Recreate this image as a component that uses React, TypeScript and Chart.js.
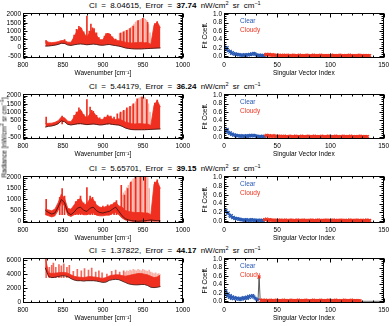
import React, { useEffect, useRef } from "react";
import { Chart, registerables } from "chart.js";

Chart.register(...registerables);

const FONT = "'Liberation Sans', Arial, Helvetica, sans-serif";
const INK = "#000";
const FIT_RED = "#ef3020";
const WEAK_PINK = "#f8b2a8";
const CLEAR_BLUE = "#2a5ab4";
const CLOUDY_RED = "#ee3522";

// ---------- spectra: wavenumber grid (cm^-1) ----------
const wavenumber = [828, 832, 836, 840, 844, 848, 852, 856, 860, 864, 868, 872, 876, 880, 884, 888, 892, 896, 900, 904, 908, 912, 916, 920, 924, 928, 932, 936, 940, 944, 948, 952, 956, 960, 964, 968, 972];

const wnTicks = [800, 850, 900, 950, 1000];
const radianceTicksA = [-500, 0, 500, 1000, 1500, 2000];
const radianceTicksB = [0, 500, 1000, 1500, 2000];
const radianceTicksC = [0, 2000, 4000, 6000];
const indexTicks = [0, 50, 100, 150];
const coeffTicks = [0, 0.2, 0.4, 0.6, 0.8, 1.0];

const ciValues = ["8.04615", "5.44179", "5.65701", "1.37822"];
const errorValues = ["37.74", "36.24", "39.15", "44.17"];

// scene 1
const obs1 = [90, 100, 120, 150, 190, 260, 250, 160, 130, 170, 200, 220, 200, 170, 190, 210, 190, 150, 140, 170, 190, 150, 120, 90, 40, -20, -50, -70, -80, -80, -80, -70, -60, -50, -40, -30, -20];
const fitLo1 = [100, 110, 130, 160, 200, 270, 270, 170, 140, 180, 220, 240, 210, 180, 200, 230, 200, 160, 150, 180, 200, 160, 130, 100, 50, -10, -40, -60, -70, -70, -70, -60, -50, -40, -30, -20, -10];
const fitHi1 = [420, 330, 300, 320, 360, 430, 420, 330, 320, 650, 1050, 1250, 880, 650, 950, 1100, 750, 480, 480, 800, 850, 600, 450, 420, 380, 330, 300, 280, 300, 300, 320, 300, 300, 200, 1350, 1550, 1200];
const lineWn1 = [829, 852, 864, 867, 870, 873, 876, 880, 883, 885, 887, 889, 892, 895, 902, 904, 906, 909, 912, 916, 922, 926, 930, 934, 938, 944, 950, 956, 965, 968];
const lineTop1 = [430, 480, 750, 1100, 1280, 1150, 950, 1900, 1000, 1430, 1200, 1150, 900, 600, 700, 850, 870, 800, 650, 520, 880, 960, 1050, 1150, 1300, 1640, 1770, 1530, 1450, 1580];
const weakWn1 = [921, 923, 925, 927, 929, 931, 933, 935, 937, 939, 941, 943, 945, 947, 949, 951, 953, 955, 957, 959];
const weakTop1 = [850, 900, 940, 1000, 1050, 1080, 1150, 1220, 1300, 1420, 1540, 1600, 1650, 1700, 1740, 1760, 1720, 1640, 1400, 900];

// scene 2
const obs2 = [90, 140, 160, 210, 290, 470, 410, 260, 220, 250, 290, 300, 270, 240, 260, 280, 250, 220, 230, 270, 290, 250, 230, 210, 140, 40, -20, -60, -70, -70, -70, -70, -60, -50, -40, -30, -20];
const fitLo2 = [100, 150, 170, 220, 300, 480, 430, 270, 230, 260, 300, 320, 280, 250, 270, 290, 260, 230, 240, 280, 300, 260, 240, 220, 150, 50, -10, -50, -60, -60, -60, -60, -50, -40, -30, -20, -10];
const fitHi2 = [300, 320, 330, 380, 480, 700, 650, 450, 420, 700, 1000, 1150, 800, 650, 900, 1000, 750, 550, 560, 700, 750, 600, 550, 600, 500, 400, 350, 300, 280, 300, 300, 280, 280, 200, 1400, 1700, 1300];
const lineWn2 = [829, 849, 864, 867, 870, 873, 876, 880, 884, 886, 888, 892, 896, 902, 906, 910, 914, 918, 922, 926, 930, 934, 938, 943, 949, 955, 965, 968];
const lineTop2 = [700, 760, 800, 1000, 1250, 1050, 850, 1750, 1300, 1100, 1050, 800, 650, 700, 820, 760, 700, 900, 1000, 1100, 1250, 1350, 1500, 1800, 1900, 1750, 1550, 1720];
const weakWn2 = [921, 923, 925, 927, 929, 931, 933, 935, 937, 939, 941, 943, 945, 947, 949, 951, 953, 955, 957, 959];
const weakTop2 = [900, 980, 1050, 1080, 1150, 1200, 1280, 1340, 1420, 1500, 1620, 1750, 1850, 1900, 1920, 1900, 1860, 1760, 1500, 1000];

// scene 3
const obs3 = [500, 400, 330, 380, 650, 1000, 850, 400, 300, 420, 600, 650, 500, 450, 600, 650, 480, 400, 380, 420, 450, 550, 650, 450, 250, 120, 60, 30, 10, 0, 10, 20, 40, 60, 40, 30, 20];
const fitLo3 = [300, 250, 200, 250, 500, 850, 700, 280, 220, 300, 350, 350, 300, 300, 350, 380, 280, 250, 250, 280, 280, 350, 400, 300, 150, 60, 20, 0, -20, -20, -20, -10, 0, 10, 0, 0, 0];
const fitHi3 = [550, 520, 480, 560, 850, 1250, 1050, 600, 550, 750, 950, 1050, 750, 800, 1050, 1000, 750, 650, 620, 680, 700, 780, 880, 700, 650, 500, 450, 420, 400, 400, 400, 380, 380, 300, 1700, 1850, 1500];
const lineWn3 = [829, 846, 849, 852, 866, 869, 872, 876, 880, 884, 887, 890, 900, 906, 910, 914, 917, 923, 927, 931, 935, 941, 947, 953, 965, 968];
const lineTop3 = [1000, 1100, 1500, 1150, 900, 1000, 1150, 850, 1550, 1150, 1100, 900, 700, 750, 750, 850, 950, 1650, 1200, 1500, 1800, 2100, 2100, 2100, 1800, 1900];
const weakWn3 = [924, 926, 928, 930, 932, 934, 936, 938, 940, 942, 944, 946, 948, 950, 952, 954, 956, 958];
const weakTop3 = [1200, 1300, 1400, 1550, 1650, 1750, 1850, 1950, 2050, 2100, 2100, 2100, 2100, 2100, 2100, 2100, 2000, 1500];

// scene 4
const obs4 = [4900, 3650, 3500, 3550, 3650, 3750, 3750, 3650, 3350, 3150, 3050, 3050, 3000, 3050, 3050, 3050, 3000, 2900, 2800, 2850, 3100, 3200, 3250, 3200, 3000, 2800, 2600, 2500, 2450, 2450, 2500, 2500, 2350, 2100, 2050, 2100, 2200];
const fitLo4 = [5000, 3700, 3550, 3600, 3700, 3800, 3800, 3700, 3400, 3200, 3100, 3100, 3050, 3100, 3100, 3100, 3050, 2950, 2850, 2900, 3150, 3250, 3300, 3250, 3050, 2850, 2650, 2550, 2500, 2500, 2550, 2550, 2400, 2150, 2100, 2150, 2250];
const fitHi4 = [6300, 4200, 4100, 4150, 4200, 4250, 4250, 4150, 3900, 3700, 3600, 3550, 3500, 3600, 3650, 3600, 3550, 3450, 3400, 3500, 3750, 3850, 3900, 3900, 3800, 3700, 3800, 3900, 4000, 4100, 4100, 4000, 3900, 3700, 3500, 3600, 3900];
const lineWn4 = [829, 833, 836, 838, 841, 845, 848, 851, 855, 858, 863, 868, 873, 877, 882, 886, 891, 895, 899, 905, 911, 916, 921, 926];
const lineTop4 = [6200, 5000, 5300, 5600, 5000, 5400, 5200, 5500, 5000, 5300, 4400, 4700, 4500, 4800, 4600, 4900, 4300, 4500, 4200, 4000, 4400, 4600, 4300, 4500];
const weakWn4 = [928, 930, 932, 934, 936, 938, 940, 942, 944, 946, 948, 950, 952, 954, 956, 958, 960, 962, 964, 966, 968, 970];
const weakTop4 = [4300, 4500, 4400, 4600, 4500, 4700, 4600, 4500, 4700, 4600, 4500, 4700, 4600, 4500, 4400, 4600, 4300, 4200, 4100, 4200, 4000, 4100];

// ---------- fit coefficients per singular vector ----------
const clear1 = [0.24, 0.20, 0.16, 0.21, 0.13, 0.10, 0.12, 0.07, 0.09, 0.06, 0.05, 0.06, 0.04, 0.05, 0.03, 0.04, 0.03, 0.02, 0.03, 0.04, 0.02, 0.03, 0.04, 0.03, 0.05, 0.04, 0.06, 0.05, 0.07, 0.06, 0.04, 0.03, 0.02, 0.03, 0.02, 0.03, 0.01, 0.02, 0.01];
const cloudy1 = [
  0.04, 0.05, 0.03, 0.04, 0.05, 0.03, 0.02, 0.04, 0.03, 0.02,
  0.03, 0.02, 0.01, 0.03, 0.02, 0.02, 0.01, 0.03, 0.02, 0.01,
  0.02, 0.03, 0.01, 0.02, 0.02, 0.01, 0.03, 0.02, 0.01, 0.02,
  0.01, 0.02, 0.03, 0.01, 0.02, 0.01, 0.02, 0.02, 0.01, 0.03,
  0.02, 0.01, 0.02, 0.01, 0.02, 0.03, 0.01, 0.02, 0.01, 0.02,
  0.02, 0.01, 0.03, 0.02, 0.01, 0.02, 0.01, 0.02, 0.02, 0.01,
  0.02, 0.01, 0.03, 0.02, 0.01, 0.02, 0.02, 0.01, 0.02, 0.01,
  0.03, 0.02, 0.01, 0.02, 0.01, 0.02, 0.02, 0.01, 0.02, 0.03,
  0.01, 0.02, 0.01, 0.02, 0.02, 0.01, 0.02, 0.01, 0.03, 0.02,
  0.01, 0.02, 0.01, 0.02, 0.02, 0.01, 0.02, 0.01, 0.02,
];
const clear2 = [0.21, 0.17, 0.14, 0.19, 0.12, 0.09, 0.11, 0.07, 0.08, 0.05, 0.06, 0.04, 0.05, 0.03, 0.04, 0.03, 0.02, 0.04, 0.03, 0.02, 0.03, 0.04, 0.02, 0.03, 0.04, 0.05, 0.03, 0.04, 0.05, 0.04, 0.03, 0.02, 0.03, 0.02, 0.01, 0.02, 0.03, 0.01, 0.02];
const cloudy2 = [
  0.03, 0.05, 0.04, 0.02, 0.04, 0.03, 0.02, 0.03, 0.04, 0.02,
  0.02, 0.03, 0.01, 0.02, 0.03, 0.02, 0.01, 0.02, 0.03, 0.01,
  0.02, 0.01, 0.02, 0.03, 0.02, 0.01, 0.02, 0.01, 0.03, 0.02,
  0.01, 0.02, 0.02, 0.01, 0.03, 0.02, 0.01, 0.02, 0.01, 0.02,
  0.03, 0.01, 0.02, 0.02, 0.01, 0.02, 0.03, 0.01, 0.02, 0.01,
  0.02, 0.02, 0.01, 0.03, 0.02, 0.01, 0.02, 0.01, 0.02, 0.03,
  0.01, 0.02, 0.01, 0.02, 0.02, 0.01, 0.03, 0.02, 0.01, 0.02,
  0.02, 0.01, 0.02, 0.03, 0.01, 0.02, 0.01, 0.02, 0.02, 0.01,
  0.03, 0.02, 0.01, 0.02, 0.01, 0.02, 0.02, 0.01, 0.02, 0.03,
  0.01, 0.02, 0.01, 0.02, 0.02, 0.01, 0.02,
];
const clear3 = [0.27, 0.22, 0.25, 0.18, 0.20, 0.14, 0.11, 0.13, 0.08, 0.09, 0.06, 0.07, 0.05, 0.06, 0.04, 0.05, 0.03, 0.04, 0.03, 0.02, 0.03, 0.04, 0.02, 0.03, 0.02, 0.03, 0.04, 0.02, 0.03, 0.02, 0.03, 0.02, 0.01, 0.02, 0.03, 0.01, 0.02, 0.01];
const cloudy3 = [
  0.04, 0.03, 0.05, 0.03, 0.02, 0.04, 0.03, 0.02, 0.03, 0.02,
  0.01, 0.03, 0.02, 0.02, 0.01, 0.03, 0.02, 0.01, 0.02, 0.02,
  0.03, 0.01, 0.02, 0.01, 0.02, 0.03, 0.02, 0.01, 0.02, 0.01,
  0.02, 0.03, 0.01, 0.02, 0.02, 0.01, 0.02, 0.03, 0.01, 0.02,
  0.01, 0.02, 0.02, 0.01, 0.03, 0.02, 0.01, 0.02, 0.01, 0.02,
  0.02, 0.03, 0.01, 0.02, 0.01, 0.02, 0.02, 0.01, 0.03, 0.02,
  0.01, 0.02, 0.02, 0.01, 0.02, 0.03, 0.01, 0.02, 0.01, 0.02,
  0.02, 0.01, 0.03, 0.02, 0.01, 0.02, 0.02, 0.01, 0.02, 0.01,
  0.03, 0.02, 0.01, 0.02, 0.02, 0.01, 0.02, 0.03, 0.01, 0.02,
  0.01, 0.02, 0.02, 0.01, 0.02, 0.01, 0.03, 0.02, 0.01, 0.02,
];
const clear4 = [0.22, 0.16, 0.25, 0.12, 0.18, 0.09, 0.14, 0.07, 0.11, 0.06, 0.09, 0.07, 0.05, 0.08, 0.06, 0.04, 0.07, 0.05, 0.09, 0.06, 0.08, 0.10, 0.07, 0.12, 0.09, 0.13, 0.10, 0.14, 0.11, 0.08, 0.06, 0.04, 0.03];
const cloudy4 = [
  0.58, 0.03, 0.02, 0.03, 0.02, 0.01, 0.03, 0.02, 0.02, 0.01,
  0.02, 0.03, 0.01, 0.02, 0.02, 0.01, 0.03, 0.02, 0.01, 0.02,
  0.02, 0.01, 0.02, 0.03, 0.01, 0.02, 0.02, 0.01, 0.02, 0.01,
  0.03, 0.02, 0.01, 0.02, 0.02, 0.01, 0.02, 0.03, 0.01, 0.02,
  0.01, 0.02, 0.02, 0.01, 0.03, 0.02, 0.01, 0.02, 0.01, 0.02,
  0.02, 0.03, 0.01, 0.02, 0.01, 0.02, 0.02, 0.01, 0.03, 0.02,
  0.01, 0.02, 0.02, 0.01, 0.02, 0.03, 0.01, 0.02, 0.01, 0.02,
  0.02, 0.01, 0.03, 0.02, 0.01, 0.02, 0.02, 0.01, 0.02, 0.01,
  0.03, 0.02, 0.01, 0.02, 0.02, 0.01, 0.02, 0.03, 0.01, 0.02,
  0.01, 0.02, 0.02, 0.01, 0.02, 0.01,
];
// vectors beyond the cloudy set carry zero weight
const unusedTail4 = [0, 0, 0, 0, 0, 0, 0, 0, 0, 0, 0, 0, 0, 0, 0, 0, 0, 0, 0, 0, 0, 0];

// ---------- layout ----------
const rows = [
  { top: 12, height: 46 },
  { top: 93, height: 46 },
  { top: 175, height: 48 },
  { top: 257, height: 46 },
];
const LEFT_AXIS_W = 23;
const RIGHT_CANVAS_X = 198;
const RIGHT_AXIS_W = 26;
const PLOT_W = 160;
const PAD_TOP = 5;
const X_AXIS_H = 20;

type Spectrum = {
  obs: number[]; lo: number[]; hi: number[];
  lineWn: number[]; lineTop: number[]; weakWn: number[]; weakTop: number[];
  base: number; lineColor: string; yMin: number; yMax: number; yTicks: number[]; yMinor: number;
};

const spectra: Spectrum[] = [
  { obs: obs1, lo: fitLo1, hi: fitHi1, lineWn: lineWn1, lineTop: lineTop1, weakWn: weakWn1, weakTop: weakTop1, base: 250, lineColor: FIT_RED, yMin: -630, yMax: 2100, yTicks: radianceTicksA, yMinor: 100 },
  { obs: obs2, lo: fitLo2, hi: fitHi2, lineWn: lineWn2, lineTop: lineTop2, weakWn: weakWn2, weakTop: weakTop2, base: 280, lineColor: FIT_RED, yMin: -630, yMax: 2100, yTicks: radianceTicksA, yMinor: 100 },
  { obs: obs3, lo: fitLo3, hi: fitHi3, lineWn: lineWn3, lineTop: lineTop3, weakWn: weakWn3, weakTop: weakTop3, base: 300, lineColor: FIT_RED, yMin: -80, yMax: 2080, yTicks: radianceTicksB, yMinor: 100 },
  { obs: obs4, lo: fitLo4, hi: fitHi4, lineWn: lineWn4, lineTop: lineTop4, weakWn: weakWn4, weakTop: weakTop4, base: 3500, lineColor: "#f4675a", yMin: -180, yMax: 6360, yTicks: radianceTicksC, yMinor: 500 },
];

type Coeff = { clear: number[]; cloudy: number[]; tail: number[] };
const coefficients: Coeff[] = [
  { clear: clear1, cloudy: cloudy1, tail: [] },
  { clear: clear2, cloudy: cloudy2, tail: [] },
  { clear: clear3, cloudy: cloudy3, tail: [] },
  { clear: clear4, cloudy: cloudy4, tail: unusedTail4 },
];

const tickFont = { family: FONT, size: 6.5 };

type FrameCfg = {
  xMajor: number; xMinor: number; yMajor: number; yMinor: number;
  labels?: { text: string; color: string; dy: number }[];
};

// boxed axes with inward major/minor ticks on all four sides
function makeFrame(cfg: FrameCfg) {
  return {
    id: "frame",
    afterDatasetsDraw(chart: any) {
      const { ctx, chartArea: a } = chart;
      const xs = chart.scales.x;
      const ys = chart.scales.y;
      const L = Math.round(a.left) + 0.5;
      const R = Math.round(a.right) - 0.5;
      const T = Math.round(a.top) + 0.5;
      const B = Math.round(a.bottom) - 0.5;
      ctx.save();
      ctx.strokeStyle = INK;
      ctx.lineWidth = 1;
      ctx.strokeRect(L, T, R - L, B - T);
      ctx.beginPath();
      const isMajor = (v: number, m: number) => Math.abs(v / m - Math.round(v / m)) < 1e-6;
      for (let k = Math.ceil(xs.min / cfg.xMinor - 1e-9); k * cfg.xMinor <= xs.max + 1e-9; k++) {
        const v = k * cfg.xMinor;
        const len = isMajor(v, cfg.xMajor) ? 4 : 2;
        const px = Math.round(xs.getPixelForValue(v)) + 0.5;
        ctx.moveTo(px, B); ctx.lineTo(px, B - len);
        ctx.moveTo(px, T); ctx.lineTo(px, T + len);
      }
      for (let k = Math.ceil(ys.min / cfg.yMinor - 1e-9); k * cfg.yMinor <= ys.max + 1e-9; k++) {
        const v = k * cfg.yMinor;
        const len = isMajor(v, cfg.yMajor) ? 4 : 2;
        const py = Math.round(ys.getPixelForValue(v)) + 0.5;
        ctx.moveTo(L, py); ctx.lineTo(L + len, py);
        ctx.moveTo(R, py); ctx.lineTo(R - len, py);
      }
      ctx.stroke();
      if (cfg.labels) {
        ctx.font = `6.5px ${FONT}`;
        ctx.textBaseline = "middle";
        ctx.textAlign = "left";
        for (const l of cfg.labels) {
          ctx.fillStyle = l.color;
          ctx.fillText(l.text, a.left + 16, a.top + l.dy);
        }
      }
      ctx.restore();
    },
  };
}

function SpectrumChart({ s, row }: { s: Spectrum; row: { top: number; height: number } }) {
  const ref = useRef<HTMLCanvasElement>(null);
  const width = LEFT_AXIS_W + PLOT_W + 10;
  const height = PAD_TOP + row.height + X_AXIS_H;
  useEffect(() => {
    const pts = (ys: number[]) => wavenumber.map((x, i) => ({ x, y: ys[i] }));
    const chart = new Chart(ref.current as HTMLCanvasElement, {
      type: "line",
      data: {
        datasets: [
          { data: pts(s.obs), borderColor: "#1a0a08", borderWidth: 0.7, pointRadius: 0, order: 0 },
          { data: pts(s.hi), borderColor: FIT_RED, backgroundColor: FIT_RED, borderWidth: 0.8, pointRadius: 0, fill: "+1", order: 1 },
          { data: pts(s.lo), borderColor: FIT_RED, borderWidth: 0.8, pointRadius: 0, order: 2 },
          {
            type: "bar",
            data: s.lineWn.map((x, i) => ({ x, y: [s.base, s.lineTop[i]] })),
            backgroundColor: s.lineColor, barThickness: 1, grouped: false, borderWidth: 0, order: 3,
          } as any,
          {
            type: "bar",
            data: s.weakWn.map((x, i) => ({ x, y: [s.base, s.weakTop[i]] })),
            backgroundColor: WEAK_PINK, barThickness: 1, grouped: false, borderWidth: 0, order: 4,
          } as any,
        ],
      },
      options: {
        animation: false,
        responsive: false,
        events: [],
        layout: { padding: { top: PAD_TOP, right: 10, left: 0, bottom: 0 } },
        plugins: { legend: { display: false }, tooltip: { enabled: false } },
        scales: {
          x: {
            type: "linear", min: 800, max: 1000, offset: false,
            grid: { display: false, drawTicks: false }, border: { display: false },
            afterBuildTicks: (sc: any) => { sc.ticks = wnTicks.map((value) => ({ value })); },
            afterFit: (sc: any) => { sc.height = X_AXIS_H; },
            ticks: { font: tickFont, color: INK, padding: 3, maxRotation: 0, autoSkip: false, callback: (v: any) => String(v) },
            title: { display: true, text: "Wavenumber [cm⁻¹]", font: tickFont, color: INK, padding: { top: 0, bottom: 1 } },
          },
          y: {
            type: "linear", min: s.yMin, max: s.yMax,
            grid: { display: false, drawTicks: false }, border: { display: false },
            afterBuildTicks: (sc: any) => { sc.ticks = s.yTicks.map((value) => ({ value })); },
            afterFit: (sc: any) => { sc.width = LEFT_AXIS_W; },
            ticks: { font: tickFont, color: INK, padding: 2, autoSkip: false, callback: (v: any) => String(v) },
          },
        },
      },
      plugins: [makeFrame({ xMajor: 50, xMinor: 10, yMajor: s.yTicks[1] - s.yTicks[0], yMinor: s.yMinor })],
    } as any);
    return () => chart.destroy();
  }, [s]);
  return (
    <canvas
      ref={ref}
      width={width}
      height={height}
      style={{ position: "absolute", left: 0, top: row.top - PAD_TOP, width, height }}
    />
  );
}

function CoeffChart({ c, row }: { c: Coeff; row: { top: number; height: number } }) {
  const ref = useRef<HTMLCanvasElement>(null);
  const width = RIGHT_AXIS_W + PLOT_W + 8;
  const height = PAD_TOP + row.height + X_AXIS_H;
  useEffect(() => {
    const clearPts = c.clear.map((y, i) => ({ x: i, y }));
    const cloudyPts = c.cloudy.map((y, i) => ({ x: c.clear.length + i, y }));
    const all = [...c.clear, ...c.cloudy, ...c.tail].map((y, i) => ({ x: i, y }));
    const marker = { pointStyle: "crossRot", pointRadius: 1.9, pointBorderWidth: 1.2, showLine: false };
    const chart = new Chart(ref.current as HTMLCanvasElement, {
      type: "scatter",
      data: {
        datasets: [
          { data: cloudyPts, borderColor: CLOUDY_RED, backgroundColor: CLOUDY_RED, ...marker, order: 0 },
          { data: clearPts, borderColor: CLEAR_BLUE, backgroundColor: CLEAR_BLUE, ...marker, order: 1 },
          { data: all, borderColor: "#333", borderWidth: 0.8, pointRadius: 0, showLine: true, order: 2 },
        ],
      },
      options: {
        animation: false,
        responsive: false,
        events: [],
        layout: { padding: { top: PAD_TOP, right: 8, left: 0, bottom: 0 } },
        plugins: { legend: { display: false }, tooltip: { enabled: false } },
        scales: {
          x: {
            type: "linear", min: 0, max: 150,
            grid: { display: false, drawTicks: false }, border: { display: false },
            afterBuildTicks: (sc: any) => { sc.ticks = indexTicks.map((value) => ({ value })); },
            afterFit: (sc: any) => { sc.height = X_AXIS_H; },
            ticks: { font: tickFont, color: INK, padding: 3, maxRotation: 0, autoSkip: false, callback: (v: any) => String(v) },
            title: { display: true, text: "Singular Vector Index", font: tickFont, color: INK, padding: { top: 0, bottom: 1 } },
          },
          y: {
            type: "linear", min: -0.04, max: 1.03,
            grid: { display: false, drawTicks: false }, border: { display: false },
            afterBuildTicks: (sc: any) => { sc.ticks = coeffTicks.map((value) => ({ value })); },
            afterFit: (sc: any) => { sc.width = RIGHT_AXIS_W; },
            ticks: { font: tickFont, color: INK, padding: 2, autoSkip: false, callback: (v: any) => Number(v).toFixed(1) },
            title: { display: true, text: "Fit Coeff.", font: tickFont, color: INK, padding: { top: 3, bottom: 0 } },
          },
        },
      },
      plugins: [
        makeFrame({
          xMajor: 50, xMinor: 10, yMajor: 0.2, yMinor: 0.05,
          labels: [
            { text: "Clear", color: CLEAR_BLUE, dy: 8 },
            { text: "Cloudy", color: CLOUDY_RED, dy: 17 },
          ],
        }),
      ],
    } as any);
    return () => chart.destroy();
  }, [c]);
  return (
    <canvas
      ref={ref}
      width={width}
      height={height}
      style={{ position: "absolute", left: RIGHT_CANVAS_X, top: row.top - PAD_TOP, width, height }}
    />
  );
}

const supStyle: React.CSSProperties = { fontSize: 5.5, position: "relative", top: -3, verticalAlign: "baseline" };

function Title({ i, y }: { i: number; y: number }) {
  return (
    <div
      style={{
        position: "absolute", left: 89, top: y - 5, height: 10, lineHeight: "10px",
        font: `8px ${FONT}`, color: INK, whiteSpace: "nowrap", wordSpacing: 2,
      }}
    >
      CI = {ciValues[i]}, Error = <b>{errorValues[i]}</b> nW/cm<span style={supStyle}>2</span> sr cm<span style={supStyle}>−1</span>
    </div>
  );
}

export default function App() {
  return (
    <div style={{ position: "fixed", left: 0, top: 0, width: 392, height: 326, background: "#fff", overflow: "hidden" }}>
      {rows.map((row, i) => (
        <React.Fragment key={i}>
          <Title i={i} y={row.top - 6} />
          <SpectrumChart s={spectra[i]} row={row} />
          <CoeffChart c={coefficients[i]} row={row} />
        </React.Fragment>
      ))}
      <div
        style={{
          position: "absolute", left: 5 - 50, top: 137 - 4.5, width: 100, height: 9, lineHeight: "9px",
          textAlign: "center", font: `6.5px ${FONT}`, color: INK, whiteSpace: "nowrap", transform: "rotate(-90deg)",
        }}
      >
        Radiance [nW/cm<span style={supStyle}>2</span> sr cm<span style={supStyle}>−1</span>]
      </div>
    </div>
  );
}
